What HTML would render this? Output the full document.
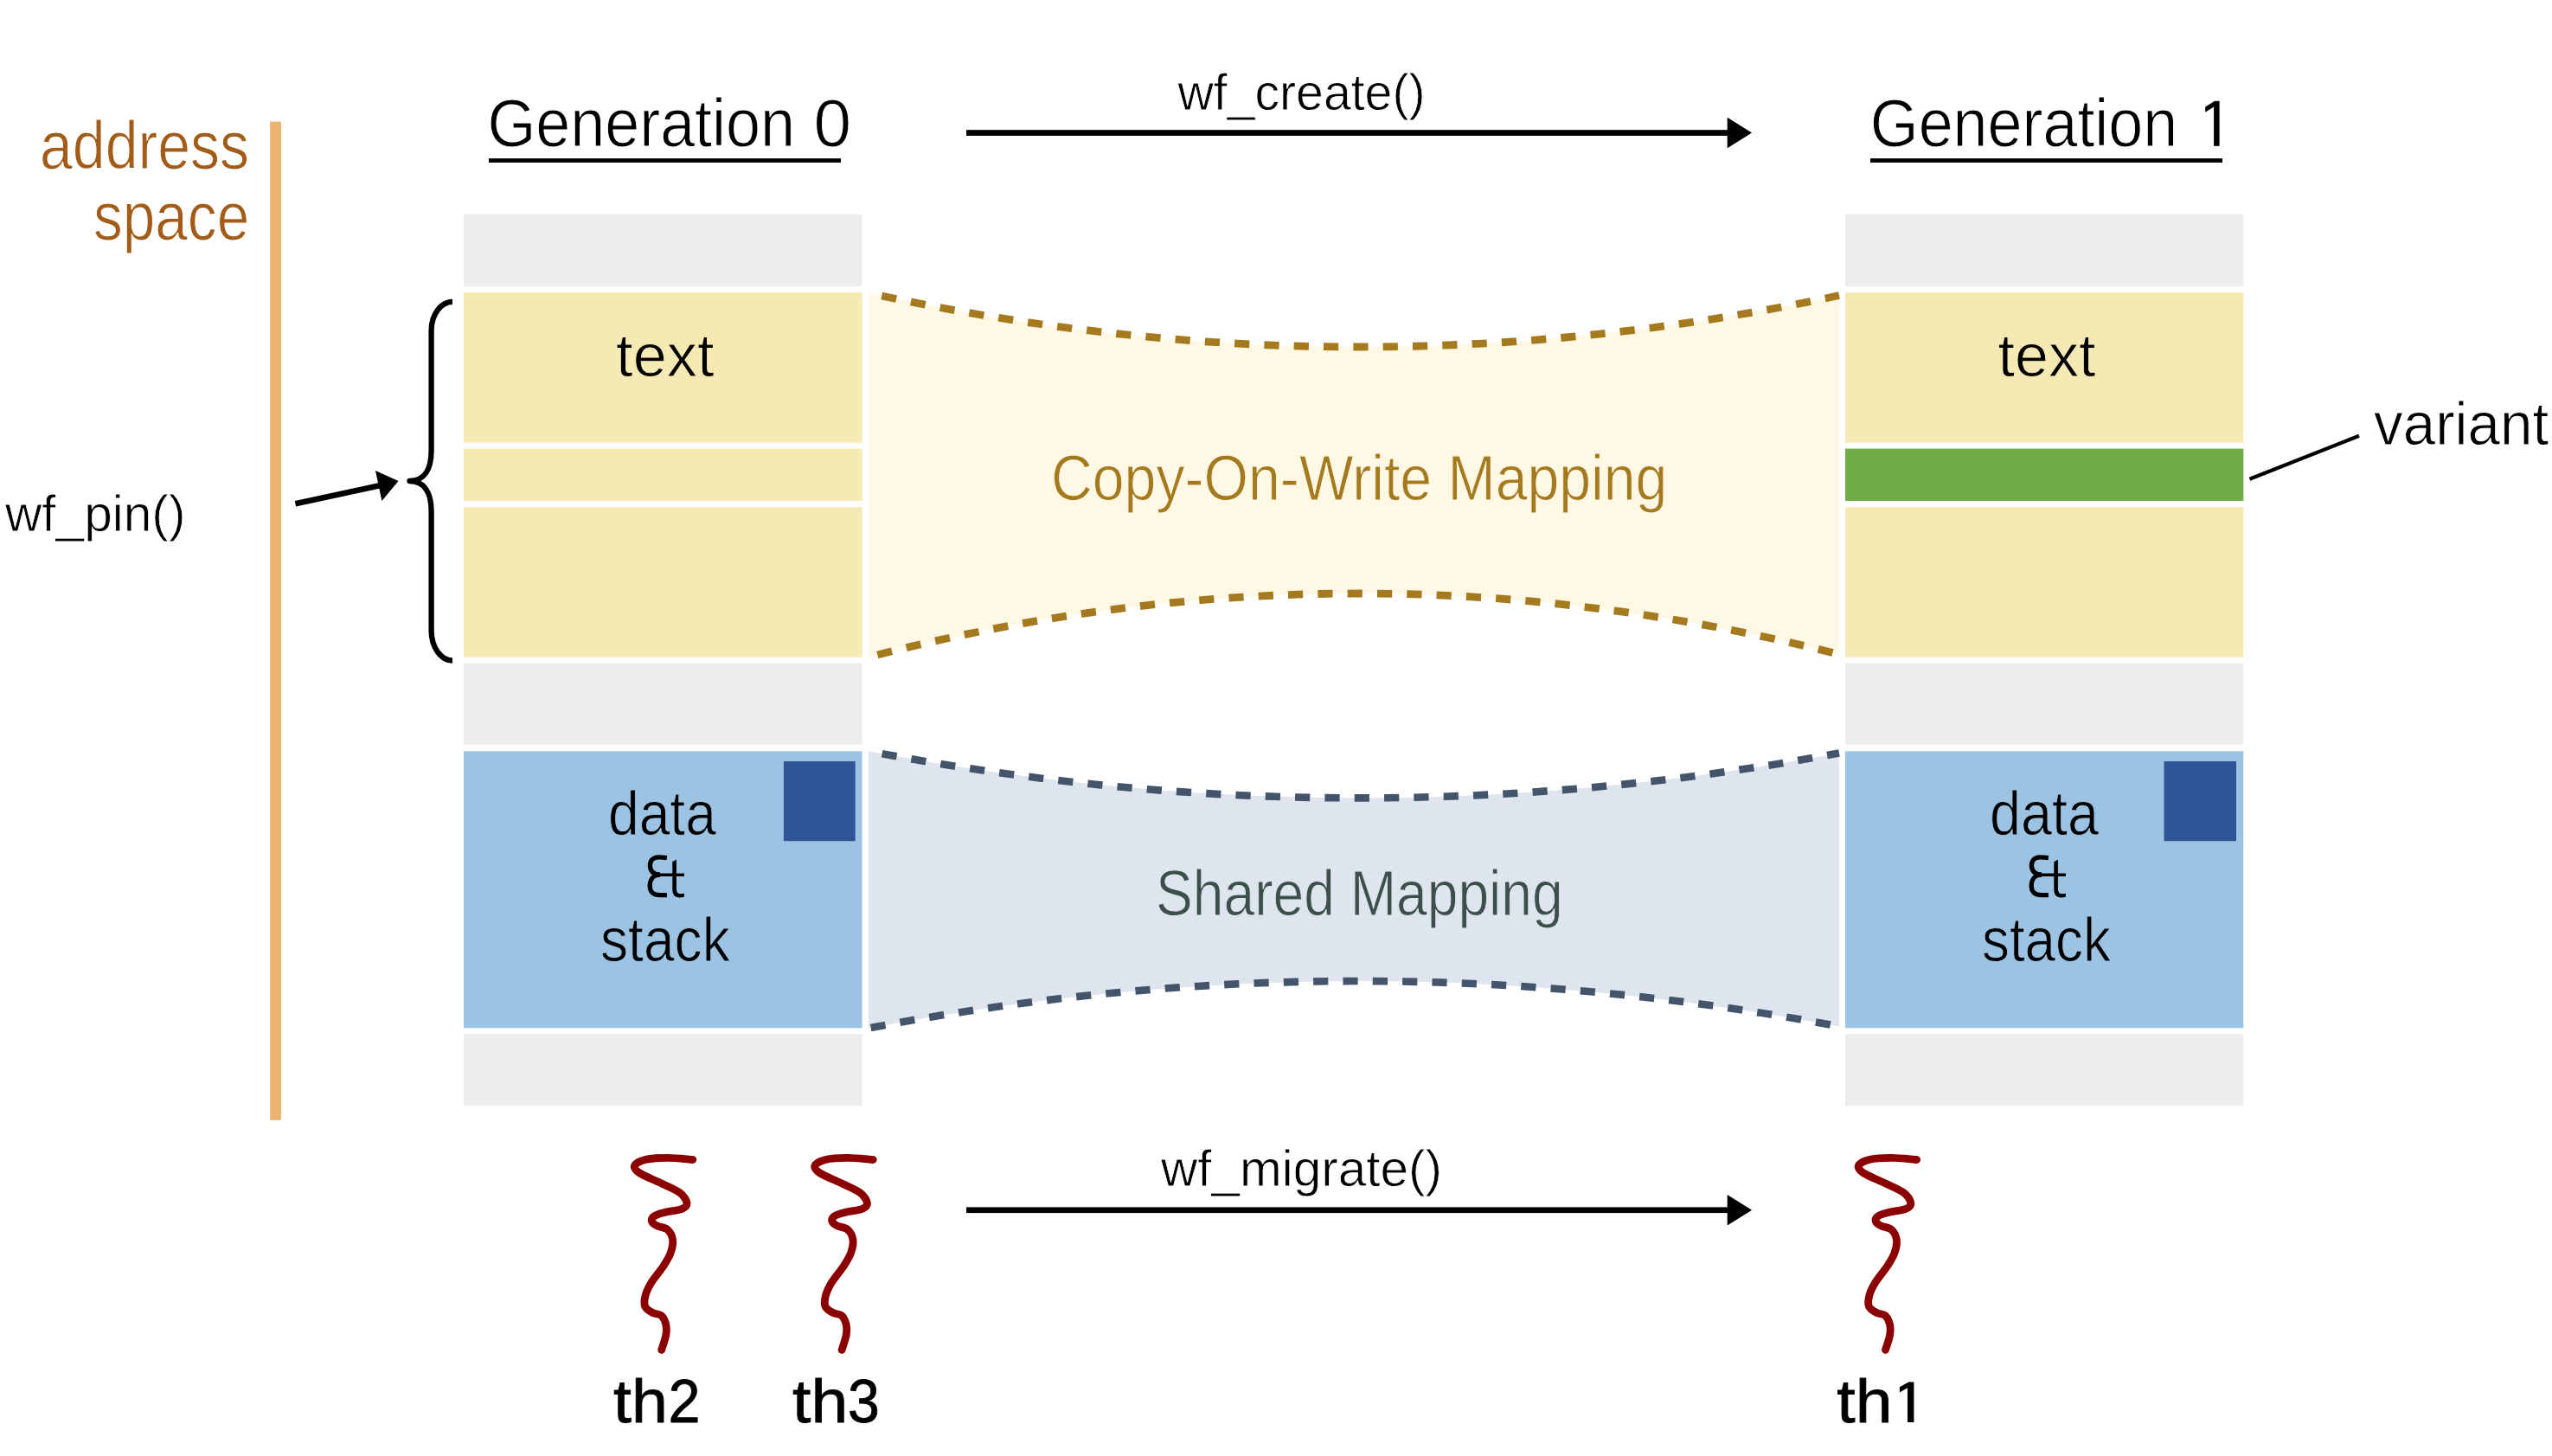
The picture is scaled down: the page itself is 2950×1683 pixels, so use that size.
<!DOCTYPE html>
<html><head><meta charset="utf-8"><title>Generations</title>
<style>
html,body{margin:0;padding:0;background:#fff;}
svg{display:block;}
text{font-family:"Liberation Sans",sans-serif;}
</style></head><body>
<svg width="2950" height="1683" viewBox="0 0 2950 1683">
<rect width="2950" height="1683" fill="#fff"/>
<g id="shapes">
<rect x="536.0" y="247.6" width="460.6" height="83.4" fill="#EDEDED"/>
<rect x="536.0" y="338.1" width="460.6" height="173.5" fill="#F6EAB4"/>
<rect x="536.0" y="518.6" width="460.6" height="60.4" fill="#F6EAB4"/>
<rect x="536.0" y="586.2" width="460.6" height="173.4" fill="#F6EAB4"/>
<rect x="536.0" y="766.6" width="460.6" height="94.2" fill="#EDEDED"/>
<rect x="536.0" y="868.3" width="460.6" height="320.0" fill="#9DC3E2"/>
<rect x="536.0" y="1195.4" width="460.6" height="83.0" fill="#EDEDED"/>
<rect x="2133.0" y="247.6" width="460.3" height="83.4" fill="#EDEDED"/>
<rect x="2133.0" y="338.1" width="460.3" height="173.5" fill="#F6EAB4"/>
<rect x="2133.0" y="518.6" width="460.3" height="60.4" fill="#70AD47"/>
<rect x="2133.0" y="586.2" width="460.3" height="173.4" fill="#F6EAB4"/>
<rect x="2133.0" y="766.6" width="460.3" height="94.2" fill="#EDEDED"/>
<rect x="2133.0" y="868.3" width="460.3" height="320.0" fill="#9DC3E2"/>
<rect x="2133.0" y="1195.4" width="460.3" height="83.0" fill="#EDEDED"/>
<rect x="905.9" y="880.0" width="82.8" height="92.2" fill="#2F5597"/>
<rect x="2501.5" y="880.0" width="83.5" height="92.2" fill="#2F5597"/>
<path d="M1003.8,338.6 Q1564.9,461.9 2126.0,341.5 L2126.0,756.4 Q1564.9,614.0 1003.8,759.6 Z" fill="#FEF8E4"/>
<path d="M2126.0,341.5 Q1564.9,461.9 1003.8,338.6" fill="none" stroke="#A57A1F" stroke-width="8.8" stroke-dasharray="17.2 17.13" stroke-dashoffset="0.6"/>
<path d="M1003.8,759.6 Q1564.9,614.0 2126.0,756.4" fill="none" stroke="#A57A1F" stroke-width="8.8" stroke-dasharray="17.2 17.13" stroke-dashoffset="23.5"/>
<path d="M1003.8,868.2 Q1564.9,975.4 2126.0,870.5 L2126.0,1186.5 Q1564.9,1080.6 1003.8,1188.6 Z" fill="#DEE5EF"/>
<path d="M2126.0,870.5 Q1564.9,975.4 1003.8,868.2" fill="none" stroke="#44546A" stroke-width="8.6" stroke-dasharray="17.2 17.13" stroke-dashoffset="3.0"/>
<path d="M1003.8,1188.6 Q1564.9,1080.6 2126.0,1186.5" fill="none" stroke="#44546A" stroke-width="8.6" stroke-dasharray="17.2 17.13" stroke-dashoffset="31.5"/>
<rect x="312.1" y="140.6" width="12.8" height="1154.2" fill="#EDB46F"/>
<rect x="565.0" y="183.1" width="407.0" height="4.8" fill="#000000"/>
<rect x="2162.0" y="183.1" width="407.0" height="4.8" fill="#000000"/>
<rect x="1117.0" y="150.2" width="880.7" height="6.7" fill="#000"/><path d="M1996.7,135.8 L2025.1,153.5 L1996.7,171.2 Z" fill="#000"/>
<rect x="1117.0" y="1395.4" width="880.7" height="6.7" fill="#000"/><path d="M1996.7,1380.9 L2025.1,1398.7 L1996.7,1416.5 Z" fill="#000"/>
<line x1="341.5" y1="582.2" x2="440" y2="561" stroke="#000" stroke-width="6.6"/>
<path d="M434,544 L460.6,556 L441.4,579 Z" fill="#000"/>
<path d="M523,348.8 C509.5,348.8 498.6,364 498.6,382 L498.6,521 C498.6,543 490,556 473.5,556 C490,556 498.6,569 498.6,591 L498.6,729 C498.6,748 509.5,763.5 523,763.5" fill="none" stroke="#000" stroke-width="6.3" stroke-linecap="butt" stroke-linejoin="round"/>
<line x1="2600.5" y1="553.7" x2="2727" y2="503.8" stroke="#000" stroke-width="4.2"/>
<path d="M800.8,1340.5 C795.9,1340.2 780.7,1338.4 771.5,1338.4 C762.3,1338.4 752.1,1339.0 745.8,1340.5 C739.5,1342.0 734.5,1344.9 733.5,1347.5 C732.5,1350.1 734.6,1352.7 739.5,1356.0 C744.4,1359.3 755.4,1363.4 763.0,1367.1 C770.6,1370.8 780.1,1374.4 785.3,1378.3 C790.4,1382.2 793.3,1387.1 793.9,1390.3 C794.5,1393.5 793.0,1395.3 788.7,1397.2 C784.4,1399.1 773.5,1400.1 768.1,1401.5 C762.7,1402.9 758.5,1404.1 756.1,1405.8 C753.7,1407.5 752.9,1409.9 753.5,1411.8 C754.1,1413.7 756.5,1415.3 759.5,1416.9 C762.5,1418.5 768.5,1418.5 771.5,1421.2 C774.5,1423.9 777.0,1428.6 777.6,1433.2 C778.2,1437.8 776.9,1443.5 775.0,1448.7 C773.1,1453.9 770.1,1458.5 766.4,1464.2 C762.7,1469.9 756.0,1477.4 752.6,1483.1 C749.2,1488.8 746.9,1493.9 745.8,1498.5 C744.7,1503.1 744.4,1507.4 745.8,1510.6 C747.2,1513.8 751.2,1515.7 754.4,1517.4 C757.5,1519.1 762.1,1518.6 764.7,1520.9 C767.3,1523.2 768.9,1527.5 769.8,1531.2 C770.6,1534.9 770.6,1538.3 769.8,1543.2 C768.9,1548.1 765.6,1557.5 764.7,1560.4" transform="translate(0.0,0)" fill="none" stroke="#8B0000" stroke-width="8.8" stroke-linecap="round" stroke-linejoin="round"/>
<path d="M800.8,1340.5 C795.9,1340.2 780.7,1338.4 771.5,1338.4 C762.3,1338.4 752.1,1339.0 745.8,1340.5 C739.5,1342.0 734.5,1344.9 733.5,1347.5 C732.5,1350.1 734.6,1352.7 739.5,1356.0 C744.4,1359.3 755.4,1363.4 763.0,1367.1 C770.6,1370.8 780.1,1374.4 785.3,1378.3 C790.4,1382.2 793.3,1387.1 793.9,1390.3 C794.5,1393.5 793.0,1395.3 788.7,1397.2 C784.4,1399.1 773.5,1400.1 768.1,1401.5 C762.7,1402.9 758.5,1404.1 756.1,1405.8 C753.7,1407.5 752.9,1409.9 753.5,1411.8 C754.1,1413.7 756.5,1415.3 759.5,1416.9 C762.5,1418.5 768.5,1418.5 771.5,1421.2 C774.5,1423.9 777.0,1428.6 777.6,1433.2 C778.2,1437.8 776.9,1443.5 775.0,1448.7 C773.1,1453.9 770.1,1458.5 766.4,1464.2 C762.7,1469.9 756.0,1477.4 752.6,1483.1 C749.2,1488.8 746.9,1493.9 745.8,1498.5 C744.7,1503.1 744.4,1507.4 745.8,1510.6 C747.2,1513.8 751.2,1515.7 754.4,1517.4 C757.5,1519.1 762.1,1518.6 764.7,1520.9 C767.3,1523.2 768.9,1527.5 769.8,1531.2 C770.6,1534.9 770.6,1538.3 769.8,1543.2 C768.9,1548.1 765.6,1557.5 764.7,1560.4" transform="translate(208.4,0)" fill="none" stroke="#8B0000" stroke-width="8.8" stroke-linecap="round" stroke-linejoin="round"/>
<path d="M800.8,1340.5 C795.9,1340.2 780.7,1338.4 771.5,1338.4 C762.3,1338.4 752.1,1339.0 745.8,1340.5 C739.5,1342.0 734.5,1344.9 733.5,1347.5 C732.5,1350.1 734.6,1352.7 739.5,1356.0 C744.4,1359.3 755.4,1363.4 763.0,1367.1 C770.6,1370.8 780.1,1374.4 785.3,1378.3 C790.4,1382.2 793.3,1387.1 793.9,1390.3 C794.5,1393.5 793.0,1395.3 788.7,1397.2 C784.4,1399.1 773.5,1400.1 768.1,1401.5 C762.7,1402.9 758.5,1404.1 756.1,1405.8 C753.7,1407.5 752.9,1409.9 753.5,1411.8 C754.1,1413.7 756.5,1415.3 759.5,1416.9 C762.5,1418.5 768.5,1418.5 771.5,1421.2 C774.5,1423.9 777.0,1428.6 777.6,1433.2 C778.2,1437.8 776.9,1443.5 775.0,1448.7 C773.1,1453.9 770.1,1458.5 766.4,1464.2 C762.7,1469.9 756.0,1477.4 752.6,1483.1 C749.2,1488.8 746.9,1493.9 745.8,1498.5 C744.7,1503.1 744.4,1507.4 745.8,1510.6 C747.2,1513.8 751.2,1515.7 754.4,1517.4 C757.5,1519.1 762.1,1518.6 764.7,1520.9 C767.3,1523.2 768.9,1527.5 769.8,1531.2 C770.6,1534.9 770.6,1538.3 769.8,1543.2 C768.9,1548.1 765.6,1557.5 764.7,1560.4" transform="translate(1414.8,0)" fill="none" stroke="#8B0000" stroke-width="8.8" stroke-linecap="round" stroke-linejoin="round"/>
<g transform="translate(0.0,0)" fill="none" stroke="#000"><path d="M770.9,991.6 C768,991.2 764,990.9 761,990.9 C755,990.9 751.4,995 751.4,1000.5 C751.4,1006.8 756,1011.2 763,1011.2" stroke-width="5.3"/><path d="M763,1011.2 C755.5,1011.2 751.2,1016.5 751.2,1024 C751.2,1031.2 756,1034.7 762.5,1034.7 C766,1034.7 768.8,1034.7 770.9,1034.6" stroke-width="5.3"/><path d="M757,1011.3 L790.9,1011.3" stroke-width="3.4"/></g><path transform="translate(0.0,0)" d="M777.3,996.3 L781.9,993.4 L781.9,1026.5 C781.9,1031.5 783.5,1033.2 786.5,1033.2 C788,1033.2 789.6,1033 790.9,1032.7 L790.9,1036.8 C789.3,1037.2 787.5,1037.4 785.6,1037.4 C780.3,1037.4 777.3,1034.5 777.3,1028 Z" fill="#000"/>
<g transform="translate(1597.0,0)" fill="none" stroke="#000"><path d="M770.9,991.6 C768,991.2 764,990.9 761,990.9 C755,990.9 751.4,995 751.4,1000.5 C751.4,1006.8 756,1011.2 763,1011.2" stroke-width="5.3"/><path d="M763,1011.2 C755.5,1011.2 751.2,1016.5 751.2,1024 C751.2,1031.2 756,1034.7 762.5,1034.7 C766,1034.7 768.8,1034.7 770.9,1034.6" stroke-width="5.3"/><path d="M757,1011.3 L790.9,1011.3" stroke-width="3.4"/></g><path transform="translate(1597.0,0)" d="M777.3,996.3 L781.9,993.4 L781.9,1026.5 C781.9,1031.5 783.5,1033.2 786.5,1033.2 C788,1033.2 789.6,1033 790.9,1032.7 L790.9,1036.8 C789.3,1037.2 787.5,1037.4 785.6,1037.4 C780.3,1037.4 777.3,1034.5 777.3,1028 Z" fill="#000"/>
<path d="M2549.2,123.4 L2560.2,116.8 L2565.6,116.8 L2565.6,168.7 L2559.1,168.7 L2559.1,123.4 L2549.2,129.8 Z" fill="#000"/>
<path d="M2195.9,1603.3 L2206.4,1597.5 L2212.4,1597.5 L2212.4,1643.9 L2205.0,1643.9 L2205.0,1604.3 L2195.9,1609.6 Z" fill="#000"/>
</g>
<g id="texts">
<text id="addr1" x="46.0" y="195.0" font-size="77.0" fill="#A35C17" stroke="#FFFFFF" stroke-width="1.00" textLength="242.0" lengthAdjust="spacingAndGlyphs">address</text>
<text id="addr2" x="108.0" y="277.3" font-size="77.0" fill="#A35C17" stroke="#FFFFFF" stroke-width="1.00" textLength="180.2" lengthAdjust="spacingAndGlyphs">space</text>
<text id="create" x="1361.5" y="127.0" font-size="60.0" fill="#000000" stroke="#FFFFFF" stroke-width="0.78" textLength="286.0" lengthAdjust="spacingAndGlyphs">wf_create()</text>
<text id="textL" x="712.1" y="435.0" font-size="71.0" fill="#000000" stroke="#F6EAB4" stroke-width="0.92" textLength="113.5" lengthAdjust="spacingAndGlyphs">text</text>
<text id="textR" x="2309.5" y="434.5" font-size="71.0" fill="#000000" stroke="#F6EAB4" stroke-width="0.92" textLength="113.1" lengthAdjust="spacingAndGlyphs">text</text>
<text id="cow" x="1215.0" y="578.2" font-size="74.0" fill="#A57A1F" stroke="#FEF8E4" stroke-width="0.96" textLength="712.4" lengthAdjust="spacingAndGlyphs">Copy-On-Write Mapping</text>
<text id="pin" x="6.0" y="613.8" font-size="59.0" fill="#000000" stroke="#FFFFFF" stroke-width="0.77" textLength="208.4" lengthAdjust="spacingAndGlyphs">wf_pin()</text>
<text id="variant" x="2744.0" y="513.8" font-size="70.0" fill="#000000" stroke="#FFFFFF" stroke-width="0.91" textLength="202.2" lengthAdjust="spacingAndGlyphs">variant</text>
<text id="shared" x="1336.0" y="1057.7" font-size="74.0" fill="#3D4F4B" stroke="#DEE5EF" stroke-width="0.96" textLength="470.7" lengthAdjust="spacingAndGlyphs">Shared Mapping</text>
<text id="dataL" x="703.0" y="965.0" font-size="72.0" fill="#000000" stroke="#9DC3E2" stroke-width="0.94" textLength="124.8" lengthAdjust="spacingAndGlyphs">data</text>
<text id="stackL" x="694.0" y="1111.2" font-size="72.0" fill="#000000" stroke="#9DC3E2" stroke-width="0.94" textLength="149.7" lengthAdjust="spacingAndGlyphs">stack</text>
<text id="dataR" x="2300.0" y="965.0" font-size="72.0" fill="#000000" stroke="#9DC3E2" stroke-width="0.94" textLength="126.1" lengthAdjust="spacingAndGlyphs">data</text>
<text id="stackR" x="2291.0" y="1111.2" font-size="72.0" fill="#000000" stroke="#9DC3E2" stroke-width="0.94" textLength="148.8" lengthAdjust="spacingAndGlyphs">stack</text>
<text id="migrate" x="1342.0" y="1370.7" font-size="60.0" fill="#000000" stroke="#FFFFFF" stroke-width="0.78" textLength="325.0" lengthAdjust="spacingAndGlyphs">wf_migrate()</text>
<text id="gen0a" x="563.4" y="168.9" font-size="78.0" fill="#000000" stroke="#FFFFFF" stroke-width="1.01" textLength="355.6" lengthAdjust="spacingAndGlyphs">Generation</text>
<text id="gen0b" x="940.6" y="168.9" font-size="78.0" fill="#000000" stroke="#FFFFFF" stroke-width="1.01" textLength="43.6" lengthAdjust="spacingAndGlyphs">0</text>
<text id="gen1a" x="2161.8" y="168.9" font-size="78.0" fill="#000000" stroke="#FFFFFF" stroke-width="1.01" textLength="355.4" lengthAdjust="spacingAndGlyphs">Generation</text>
<text id="th1a" x="2123.3" y="1644.1" font-size="70.0" fill="#000000" stroke="#000000" stroke-width="0.80" textLength="64.1" lengthAdjust="spacingAndGlyphs">th</text>
<text id="th2a" x="709.0" y="1644.4" font-size="70.0" fill="#000000" stroke="#000000" stroke-width="0.80" textLength="62.8" lengthAdjust="spacingAndGlyphs">th</text>
<text id="th3a" x="916.1" y="1644.4" font-size="70.0" fill="#000000" stroke="#000000" stroke-width="0.80" textLength="64.1" lengthAdjust="spacingAndGlyphs">th</text>
<text id="th2b" x="772.4" y="1644.4" font-size="70.0" fill="#000000" stroke="#000000" stroke-width="0.80" textLength="37.0" lengthAdjust="spacingAndGlyphs">2</text>
<text id="th3b" x="980.0" y="1644.4" font-size="70.0" fill="#000000" stroke="#000000" stroke-width="0.80" textLength="36.8" lengthAdjust="spacingAndGlyphs">3</text>
</g>
</svg>
</body></html>
